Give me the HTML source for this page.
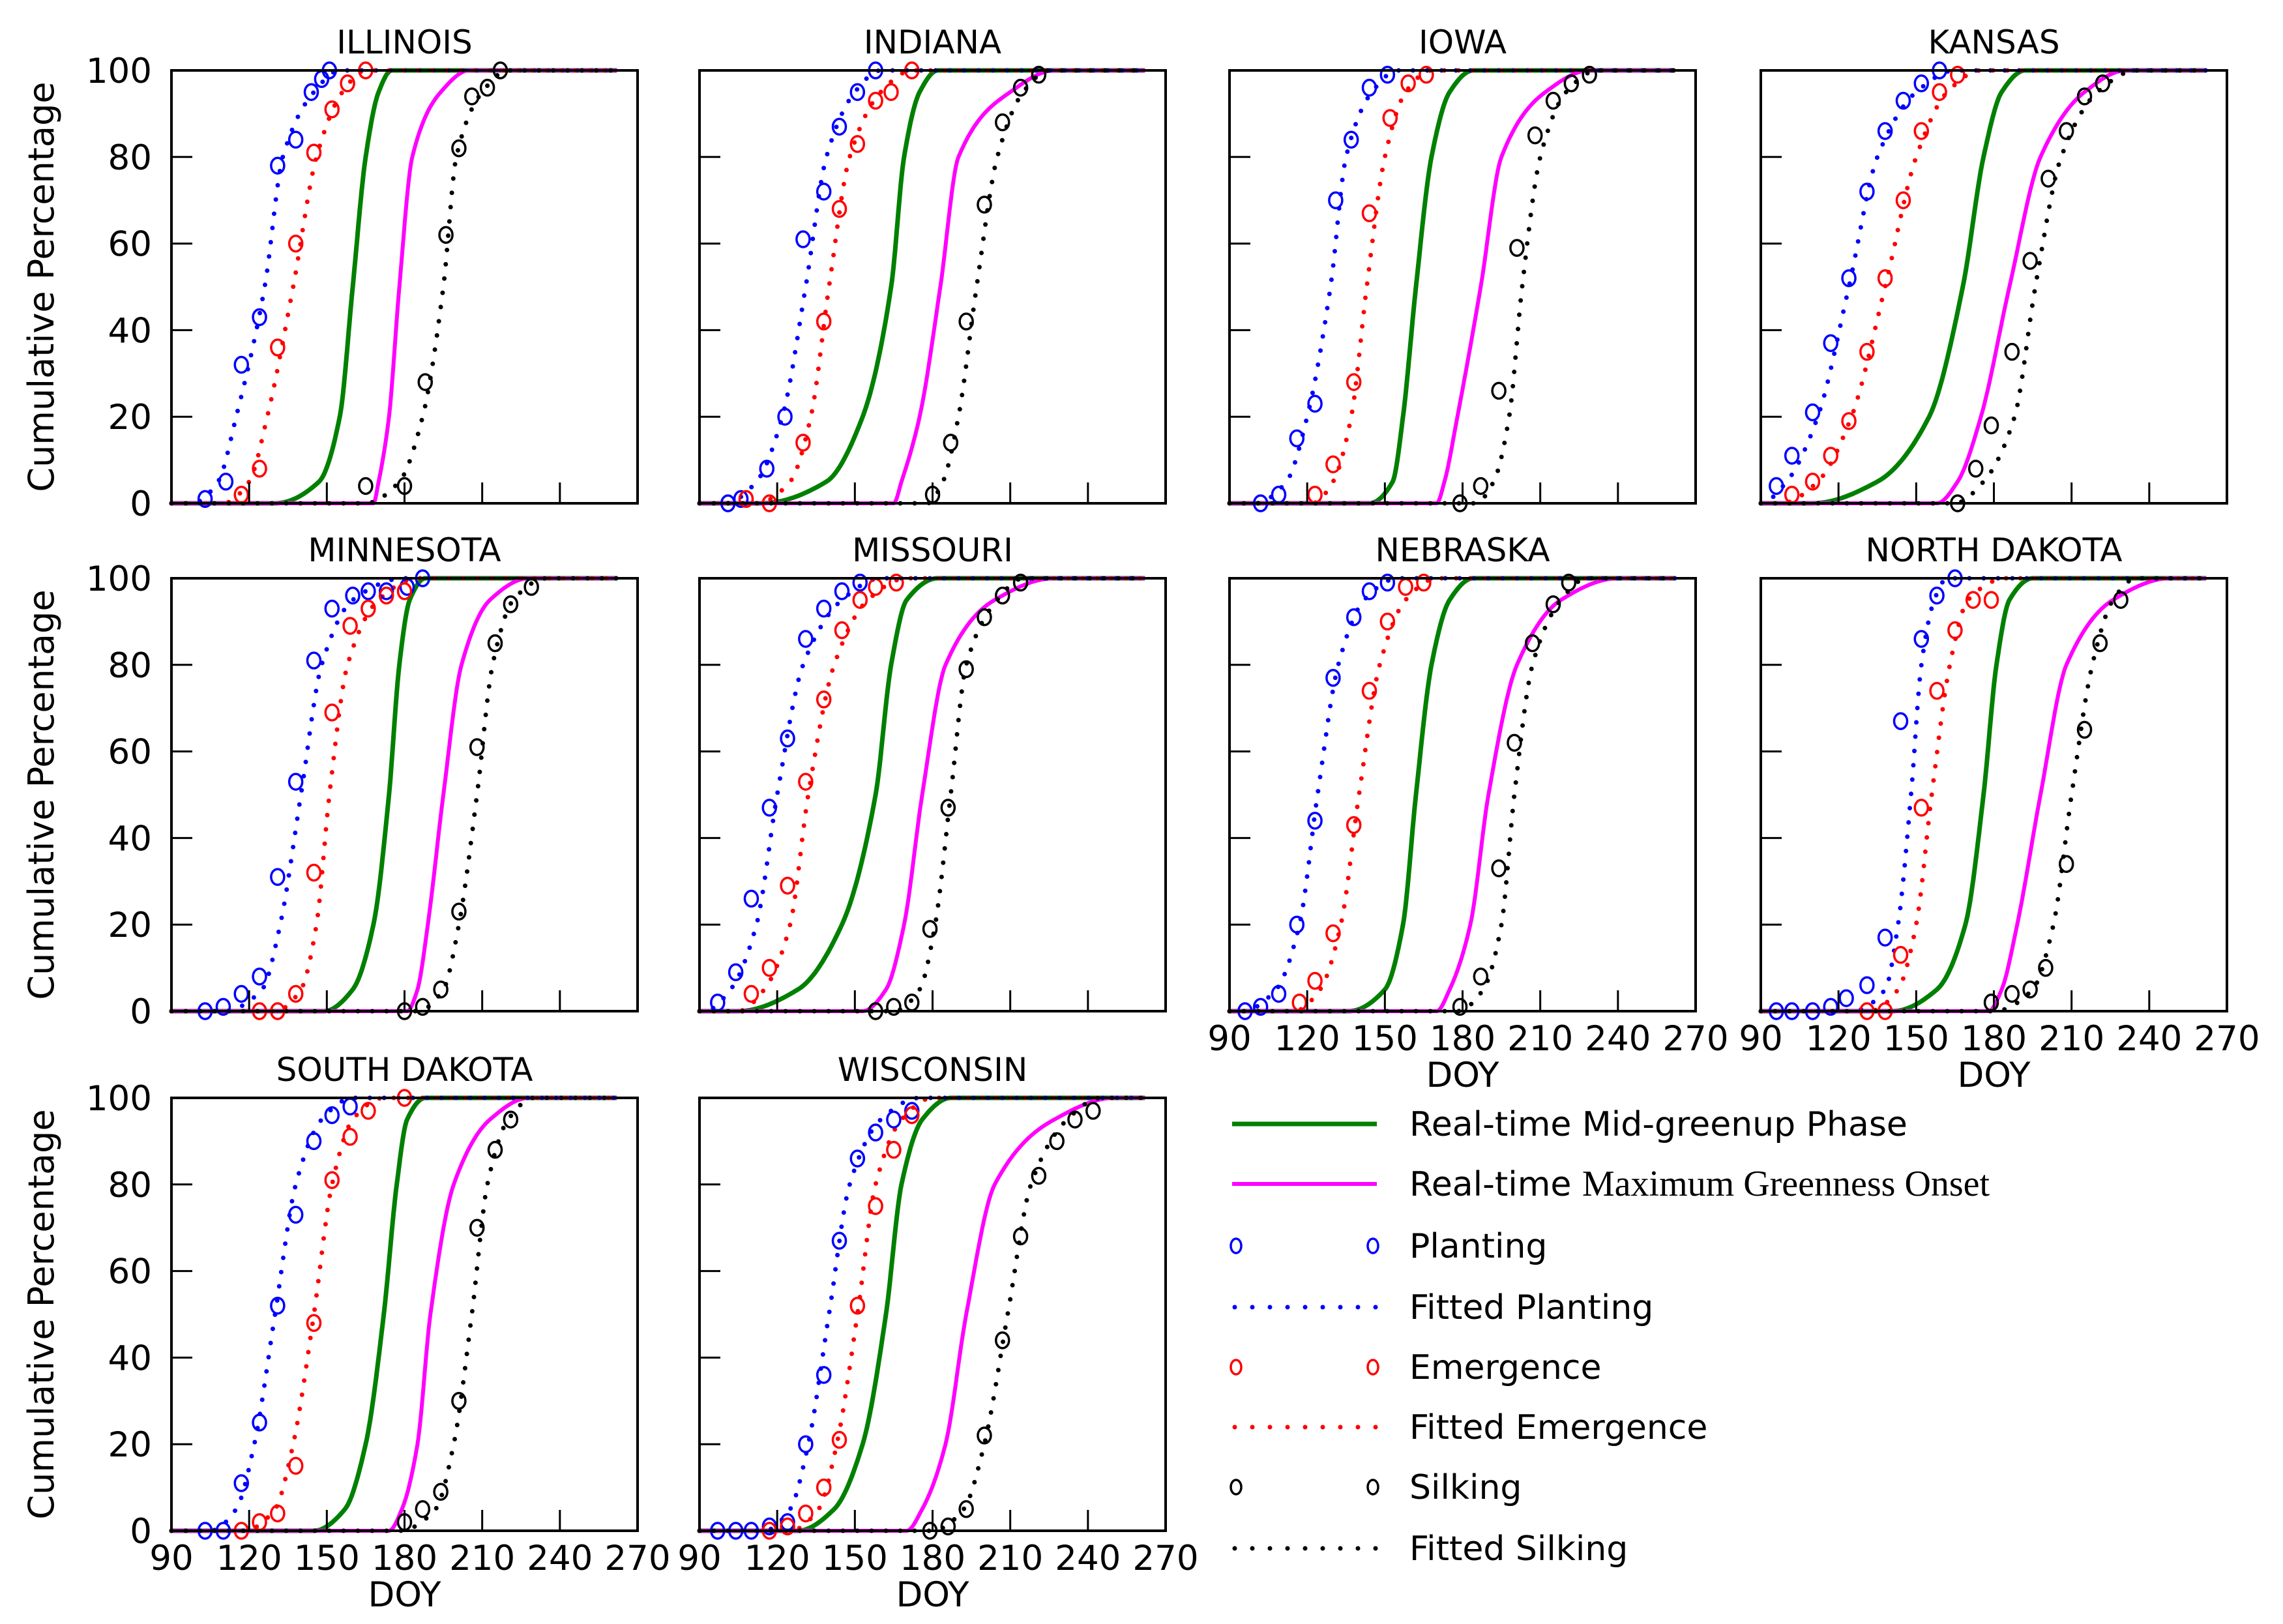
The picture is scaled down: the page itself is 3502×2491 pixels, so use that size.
<!DOCTYPE html>
<html><head><meta charset="utf-8"><style>
html,body{margin:0;padding:0;background:#fff;}
svg{display:block;}
text{font-family:"DejaVu Sans","Liberation Sans",sans-serif;fill:#000;}
</style></head><body>
<svg id="chart" width="3502" height="2491" viewBox="0 0 3502 2491" xmlns="http://www.w3.org/2000/svg"></svg>
<script>
// ---- data (DOY at cumulative percent levels) ----
const states = ["ILLINOIS","INDIANA","IOWA","KANSAS","MINNESOTA","MISSOURI","NEBRASKA","NORTH DAKOTA","SOUTH DAKOTA","WISCONSIN"];
const pctLevels = [0,5,20,50,80,95,100];
const greenupDoy = [
 [130,147,155,160,165,170,175],[114,139,153,164,169,175,182],[144,153,157,162,168,175,184],[110,135,155,168,176,183,192],
 [149,160,168,174,178,182,188],[105,128,145,158,164,170,182],[136,150,157,162,168,175,184],[141,158,169,176,181,186,195],
 [145,157,165,172,177,181,188],[128,142,153,162,168,176,187]];
const maxGreenDoy = [
 [168,170,174,178,183,194,205],[165,168,175,183,190,210,227],[170,173,178,187,195,212,229],[158,166,175,186,198,215,231],
 [181,185,189,195,202,213,228],[153,162,169,176,185,204,227],[170,175,183,190,201,218,240],[178,183,189,198,208,226,248],
 [174,179,185,190,199,213,228],[170,176,185,193,204,227,250]];
const fitPlantDoy = [
 [98,108,115,126,133,145,155],[100,112,122,131,139,150,160],[100,112,120,129,135,145,155],[90,100,112,124,135,150,165],
 [110,125,132,140,148,160,180],[92,102,112,120,130,145,160],[95,108,117,124,132,142,155],[125,138,143,148,152,157,162],
 [105,115,122,130,138,148,160],[115,125,132,140,148,160,175]];
const fitEmergDoy = [
 [110,120,127,137,146,156,165],[112,125,133,140,148,160,172],[122,130,137,143,150,158,168],[98,112,125,138,150,162,175],
 [130,140,146,151,158,170,185],[105,115,125,132,142,155,170],[115,125,133,140,148,158,170],[132,143,150,156,163,170,185],
 [118,130,137,145,152,160,172],[125,136,143,151,158,168,180]];
const fitSilkDoy = [
 [165,178,187,195,200,210,220],[178,184,190,197,205,215,225],[185,192,198,203,210,220,232],[165,176,188,196,206,220,235],
 [185,195,201,208,214,222,235],[165,175,181,187,193,205,215],[178,188,195,200,207,218,228],[180,195,203,210,218,226,235],
 [178,192,199,206,212,220,230],[180,192,200,209,218,232,245]];
const plantObs = [
 [[103,1],[111,5],[117,32],[124,43],[131,78],[138,84],[144,95],[148,98],[151,100]],
 [[101,0],[106,1],[116,8],[123,20],[130,61],[138,72],[144,87],[151,95],[158,100]],
 [[102,0],[109,2],[116,15],[123,23],[131,70],[137,84],[144,96],[151,99]],
 [[96,4],[102,11],[110,21],[117,37],[124,52],[131,72],[138,86],[145,93],[152,97],[159,100]],
 [[103,0],[110,1],[117,4],[124,8],[131,31],[138,53],[145,81],[152,93],[160,96],[166,97],[173,97],[181,98],[187,100]],
 [[97,2],[104,9],[110,26],[117,47],[124,63],[131,86],[138,93],[145,97],[152,99]],
 [[96,0],[102,1],[109,4],[116,20],[123,44],[130,77],[138,91],[144,97],[151,99]],
 [[96,0],[102,0],[110,0],[117,1],[123,3],[131,6],[138,17],[144,67],[152,86],[158,96],[165,100]],
 [[103,0],[110,0],[117,11],[124,25],[131,52],[138,73],[145,90],[152,96],[159,98]],
 [[97,0],[104,0],[110,0],[117,1],[124,2],[131,20],[138,36],[144,67],[151,86],[158,92],[165,95],[172,97]]];
const emergObs = [
 [[117,2],[124,8],[131,36],[138,60],[145,81],[152,91],[158,97],[165,100]],
 [[108,1],[117,0],[130,14],[138,42],[144,68],[151,83],[158,93],[164,95],[172,100]],
 [[123,2],[130,9],[138,28],[144,67],[152,89],[159,97],[166,99]],
 [[102,2],[110,5],[117,11],[124,19],[131,35],[138,52],[145,70],[152,86],[159,95],[166,99]],
 [[124,0],[131,0],[138,4],[145,32],[152,69],[159,89],[166,93],[173,96],[180,97]],
 [[110,4],[117,10],[124,29],[131,53],[138,72],[145,88],[152,95],[158,98],[166,99]],
 [[117,2],[123,7],[130,18],[138,43],[144,74],[151,90],[158,98],[165,99]],
 [[131,0],[138,0],[144,13],[152,47],[158,74],[165,88],[172,95],[179,95]],
 [[117,0],[124,2],[131,4],[138,15],[145,48],[152,81],[159,91],[166,97],[180,100]],
 [[117,0],[124,1],[131,4],[138,10],[144,21],[151,52],[158,75],[165,88],[172,96]]];
const silkObs = [
 [[165,4],[180,4],[188,28],[196,62],[201,82],[206,94],[212,96],[217,100]],
 [[180,2],[187,14],[193,42],[200,69],[207,88],[214,96],[221,99]],
 [[179,0],[187,4],[194,26],[201,59],[208,85],[215,93],[222,97],[229,99]],
 [[166,0],[173,8],[179,18],[187,35],[194,56],[201,75],[208,86],[215,94],[222,97]],
 [[180,0],[187,1],[194,5],[201,23],[208,61],[215,85],[221,94],[229,98]],
 [[158,0],[165,1],[172,2],[179,19],[186,47],[193,79],[200,91],[207,96],[214,99]],
 [[179,1],[187,8],[194,33],[200,62],[207,85],[215,94],[221,99]],
 [[179,2],[187,4],[194,5],[200,10],[208,34],[215,65],[221,85],[229,95]],
 [[180,2],[187,5],[194,9],[201,30],[208,70],[215,88],[221,95]],
 [[179,0],[186,1],[193,5],[200,22],[207,44],[214,68],[221,82],[228,90],[235,95],[242,97]]];
const xTicks = [90,120,150,180,210,240,270];
const yTicks = [0,20,40,60,80,100];
const legendLabels = ["Real-time Mid-greenup Phase","Real-time Maximum Greenness Onset","Planting","Fitted Planting","Emergence","Fitted Emergence","Silking","Fitted Silking"];

// ---- layout ----
const NS="http://www.w3.org/2000/svg";
const svg=document.getElementById('chart');
const colX=[263,1073,1886,2701], rowY=[108,887,1684];
const PW=715, PH=664;
function mk(tag,attrs,parent){const e=document.createElementNS(NS,tag);for(const k in attrs)e.setAttribute(k,attrs[k]);(parent||svg).appendChild(e);return e;}

// monotone cubic (Fritsch-Carlson) through knots (doy -> pct)
function curvePts(doys,sx,sy){
  const xs=doys.slice(), ys=pctLevels.slice(), n=xs.length;
  for(let i=1;i<n;i++) if(xs[i]<=xs[i-1]) xs[i]=xs[i-1]+0.01;
  const d=[],m=[];
  for(let i=0;i<n-1;i++) d.push((ys[i+1]-ys[i])/(xs[i+1]-xs[i]));
  m[0]=0; m[n-1]=0;
  for(let i=1;i<n-1;i++){ if(d[i-1]*d[i]<=0) m[i]=0; else { const w1=2*(xs[i+1]-xs[i])+(xs[i]-xs[i-1]), w2=(xs[i+1]-xs[i])+2*(xs[i]-xs[i-1]); m[i]=(w1+w2)/(w1/d[i-1]+w2/d[i]); } }
  const pts=[[sx(90),sy(0)]];
  for(let i=0;i<n-1;i++){
    const h=xs[i+1]-xs[i];
    for(let s=0;s<=16;s++){const t=s/16,t2=t*t,t3=t2*t;
      const p=(2*t3-3*t2+1)*ys[i]+(t3-2*t2+t)*h*m[i]+(-2*t3+3*t2)*ys[i+1]+(t3-t2)*h*m[i+1];
      pts.push([sx(xs[i]+h*t),sy(Math.max(0,Math.min(100,p)))]);}
  }
  pts.push([sx(262),sy(100)]);
  return pts;
}
function ptsStr(pts){return pts.map(p=>p[0].toFixed(1)+','+p[1].toFixed(1)).join(' ');}

states.forEach((st,i)=>{
  const r=Math.floor(i/4), c=i%4;
  const L=colX[c], T=rowY[r];
  const sx=d=>L+(d-90)/180*PW, sy=p=>T+PH-p/100*PH;
  const g=mk('g',{});
  
  
  const title=mk('text',{x:L+PW/2,y:T-26,'text-anchor':'middle','font-size':50},g);
  title.textContent=st;
  
  
  const gl=mk('polyline',{points:ptsStr(curvePts(greenupDoy[i],sx,sy)),fill:'none',stroke:'#008000','stroke-width':7,'stroke-linejoin':'round'},g);
  
  
  const ml=mk('polyline',{points:ptsStr(curvePts(maxGreenDoy[i],sx,sy)),fill:'none',stroke:'#ff00ff','stroke-width':6,'stroke-linejoin':'round'},g);
  
  
  [[fitPlantDoy,'#0000ff','fitted-planting-line'],[fitEmergDoy,'#ff0000','fitted-emergence-line'],[fitSilkDoy,'#000','fitted-silking-line']].forEach(([arr,col,nm])=>{
    const l=mk('polyline',{points:ptsStr(curvePts(arr[i],sx,sy)),fill:'none',stroke:col,'stroke-width':7,'stroke-dasharray':'0 22','stroke-linecap':'round'},g);
    
    
  });
  [[plantObs,'#0000ff','planting-point'],[emergObs,'#ff0000','emergence-point'],[silkObs,'#000','silking-point']].forEach(([arr,col,nm])=>{
    arr[i].forEach(([d,p])=>{
      const m=mk('ellipse',{cx:sx(d),cy:sy(p),rx:10,ry:12,fill:'none',stroke:col,'stroke-width':3.5},g);
      
      
    });
  });
  const fr=mk('rect',{x:L,y:T,width:PW,height:PH,fill:'none',stroke:'#000','stroke-width':4},g);
  
  
  xTicks.slice(1,-1).forEach(d=>{const t=mk('line',{x1:sx(d),x2:sx(d),y1:T+PH,y2:T+PH-32,stroke:'#000','stroke-width':3},g);
    
    });
  yTicks.slice(1,-1).forEach(p=>{const t=mk('line',{x1:L,x2:L+32,y1:sy(p),y2:sy(p),stroke:'#000','stroke-width':3},g);
    
    });
  if(c===0){
    yTicks.forEach(p=>{const t=mk('text',{x:L-30,y:sy(p)+19,'text-anchor':'end','font-size':53},g);t.textContent=p;
      
      });
    const yl=mk('text',{x:0,y:0,transform:`translate(82,${T+PH/2}) rotate(-90)`,'text-anchor':'middle','font-size':54},g);
    yl.textContent='Cumulative Percentage';
    
    
  }
  if((r===2)||(r===1&&c>=2)){
    xTicks.forEach(d=>{const t=mk('text',{x:sx(d),y:T+PH+60,'text-anchor':'middle','font-size':53},g);t.textContent=d;
      
      });
    const xl=mk('text',{x:L+PW/2,y:T+PH+116,'text-anchor':'middle','font-size':53},g);
    xl.textContent='DOY';
    
    
  }
});

// ---- legend ----
const legY=[1724,1816,1911,2005,2097,2189,2281,2375];
const lx0=1890,lx1=2112,tx=2162;
const lg=mk('g',{});


const styles=[
 {type:'line',col:'#008000',w:7},{type:'line',col:'#ff00ff',w:6},
 {type:'mark',col:'#0000ff'},{type:'dot',col:'#0000ff'},
 {type:'mark',col:'#ff0000'},{type:'dot',col:'#ff0000'},
 {type:'mark',col:'#000'},{type:'dot',col:'#000'}];
legendLabels.forEach((lab,k)=>{
  const y=legY[k], s=styles[k];
  const e=mk('g',{},lg);
  
  
  if(s.type==='line') mk('line',{x1:lx0,x2:lx1,y1:y,y2:y,stroke:s.col,'stroke-width':s.w},e);
  else if(s.type==='dot') mk('line',{x1:lx0+4,x2:lx1,y1:y,y2:y,stroke:s.col,'stroke-width':7,'stroke-dasharray':'0 27','stroke-linecap':'round'},e);
  else {mk('ellipse',{cx:lx0+6,cy:y,rx:8,ry:11,fill:'none',stroke:s.col,'stroke-width':3.5},e);mk('ellipse',{cx:lx1-6,cy:y,rx:8,ry:11,fill:'none',stroke:s.col,'stroke-width':3.5},e);}
  const t=mk('text',{x:tx,y:y+18,'font-size':52},e);
  if(k===1){t.appendChild(document.createTextNode('Real-time '));const sp=mk('tspan',{'font-family':'"Liberation Serif",serif','font-size':56},t);sp.textContent='Maximum Greenness Onset';}
  else t.textContent=lab;
});
</script>
</body></html>
